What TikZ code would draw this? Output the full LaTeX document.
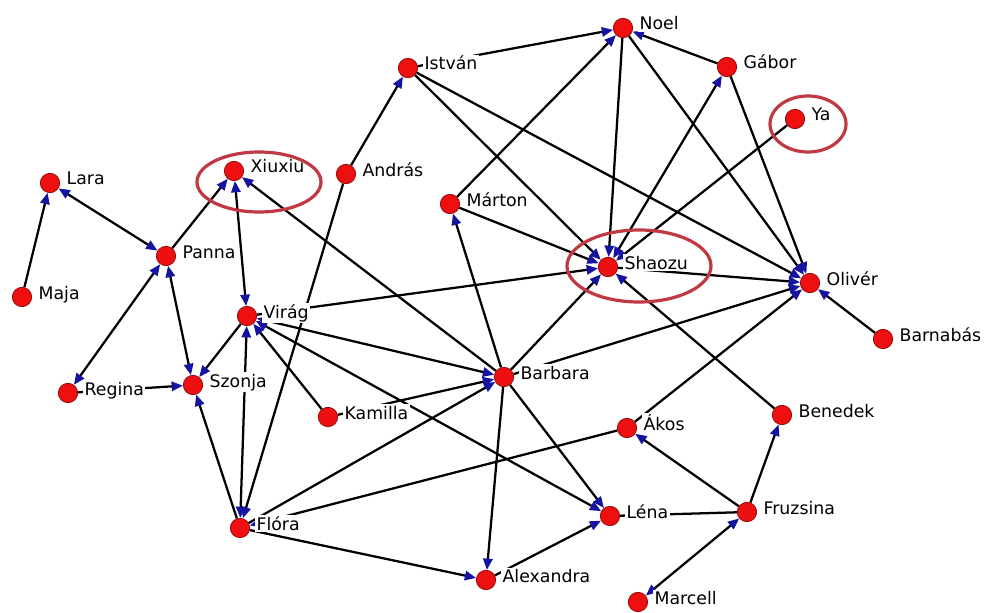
\documentclass[tikz,border=0pt]{standalone}
\usepackage{fontspec}
\setmainfont{DejaVu Sans}
\usetikzlibrary{arrows.meta}
\definecolor{dotred}{RGB}{238,16,16}
\definecolor{dotrim}{RGB}{150,10,10}
\definecolor{tipblue}{RGB}{20,20,160}
\definecolor{ringred}{RGB}{192,56,66}
\tikzset{
  actor/.style={circle, fill=dotred, draw=dotrim, line width=0.6pt, minimum size=14.5pt, inner sep=0pt},
  name tag/.style={anchor=base west, fill=white, inner sep=1pt, font=\fontsize{13}{15}\selectfont},
  tie/.style={line width=1.7pt, -{Triangle[length=8.5pt, width=7pt, color=tipblue]}},
  mutual/.style={line width=1.7pt, {Triangle[length=8.5pt, width=7pt, color=tipblue]}-{Triangle[length=8.5pt, width=7pt, color=tipblue]}},
  tieplain/.style={line width=1.7pt},
  ring/.style={draw=ringred, line width=2.4pt}
}
\begin{document}
\begin{tikzpicture}[x=0.75pt,y=0.75pt,yscale=-1,xscale=1]
\useasboundingbox (0,0) rectangle (985,613);

%Shape: Circle
\node [actor] (noel) at (623,28) {};
\node [actor] (istvan) at (408,68) {};
\node [actor] (gabor) at (727,67) {};
\node [actor] (ya) at (795,119) {};
\node [actor] (xiuxiu) at (234,171) {};
\node [actor] (andras) at (346,174) {};
\node [actor] (lara) at (50,183) {};
\node [actor] (marton) at (450,204) {};
\node [actor] (panna) at (166,256) {};
\node [actor] (shaozu) at (608,267) {};
\node [actor] (oliver) at (810,283) {};
\node [actor] (maja) at (22,297) {};
\node [actor] (virag) at (247,316) {};
\node [actor] (barnabas) at (883,339) {};
\node [actor] (barbara) at (504,377) {};
\node [actor] (szonja) at (193,385) {};
\node [actor] (regina) at (68,393) {};
\node [actor] (kamilla) at (328,417) {};
\node [actor] (benedek) at (782,415) {};
\node [actor] (akos) at (627,428) {};
\node [actor] (flora) at (240,528) {};
\node [actor] (lena) at (610,516) {};
\node [actor] (fruzsina) at (747,512) {};
\node [actor] (alexandra) at (486,580) {};
\node [actor] (marcell) at (638,602) {};

%Straight Lines
\draw [tie] (maja) -- (lara);
\draw [mutual] (lara) -- (panna);
\draw [tie] (panna) -- (xiuxiu);
\draw [mutual] (panna) -- (regina);
\draw [mutual] (panna) -- (szonja);
\draw [tie] (regina) -- (szonja);
\draw [mutual] (xiuxiu) -- (virag);
\draw [tie] (barbara) -- (xiuxiu);
\draw [tie] (virag) -- (szonja);
\draw [tie] (flora) -- (szonja);
\draw [mutual] (flora) -- (virag);
\draw [tie] (andras) -- (flora);
\draw [tie] (andras) -- (istvan);
\draw [tie] (kamilla) -- (virag);
\draw [mutual] (virag) -- (barbara);
\draw [tie] (virag) -- (shaozu);
\draw [mutual] (virag) -- (lena);
\draw [tie] (kamilla) -- (barbara);
\draw [tie] (flora) -- (barbara);
\draw [tie] (akos) -- (flora);
\draw [tie] (flora) -- (alexandra);
\draw [tie] (barbara) -- (alexandra);
\draw [tie] (barbara) -- (lena);
\draw [tie] (barbara) -- (marton);
\draw [tie] (barbara) -- (shaozu);
\draw [tie] (barbara) -- (oliver);
\draw [tie] (alexandra) -- (lena);
\draw [tieplain] (fruzsina) -- (lena);
\draw [tie] (fruzsina) -- (akos);
\draw [tie] (fruzsina) -- (benedek);
\draw [mutual] (marcell) -- (fruzsina);
\draw [tie] (benedek) -- (shaozu);
\draw [tie] (barnabas) -- (oliver);
\draw [tie] (shaozu) -- (oliver);
\draw [tie] (akos) -- (oliver);
\draw [tie] (marton) -- (shaozu);
\draw [tie] (marton) -- (noel);
\draw [tie] (istvan) -- (noel);
\draw [tie] (istvan) -- (shaozu);
\draw [tie] (istvan) -- (oliver);
\draw [tie] (noel) -- (shaozu);
\draw [tie] (noel) -- (oliver);
\draw [tie] (gabor) -- (noel);
\draw [tie] (gabor) -- (oliver);
\draw [mutual] (shaozu) -- (gabor);
\draw [tie] (ya) -- (shaozu);

% Text Node
\node [name tag] (noel-t) at ([shift={(15,2)}]noel.center) {Noel};
\node [name tag] (istvan-t) at ([shift={(15,2)}]istvan.center) {István};
\node [name tag] (gabor-t) at ([shift={(15,2)}]gabor.center) {Gábor};
\node [name tag] (ya-t) at ([shift={(15,2)}]ya.center) {Ya};
\node [name tag] (xiuxiu-t) at ([shift={(15,2)}]xiuxiu.center) {Xiuxiu};
\node [name tag] (andras-t) at ([shift={(15,2)}]andras.center) {András};
\node [name tag] (lara-t) at ([shift={(15,2)}]lara.center) {Lara};
\node [name tag] (marton-t) at ([shift={(15,2)}]marton.center) {Márton};
\node [name tag] (panna-t) at ([shift={(15,2)}]panna.center) {Panna};
\node [name tag] (shaozu-t) at ([shift={(15,2)}]shaozu.center) {Shaozu};
\node [name tag] (oliver-t) at ([shift={(15,2)}]oliver.center) {Olivér};
\node [name tag] (maja-t) at ([shift={(15,2)}]maja.center) {Maja};
\node [name tag] (virag-t) at ([shift={(15,2)}]virag.center) {Virág};
\node [name tag] (barnabas-t) at ([shift={(15,2)}]barnabas.center) {Barnabás};
\node [name tag] (barbara-t) at ([shift={(15,2)}]barbara.center) {Barbara};
\node [name tag] (szonja-t) at ([shift={(15,2)}]szonja.center) {Szonja};
\node [name tag] (regina-t) at ([shift={(15,2)}]regina.center) {Regina};
\node [name tag] (kamilla-t) at ([shift={(15,2)}]kamilla.center) {Kamilla};
\node [name tag] (benedek-t) at ([shift={(15,2)}]benedek.center) {Benedek};
\node [name tag] (akos-t) at ([shift={(15,2)}]akos.center) {Ákos};
\node [name tag] (flora-t) at ([shift={(15,2)}]flora.center) {Flóra};
\node [name tag] (lena-t) at ([shift={(15,2)}]lena.center) {Léna};
\node [name tag] (fruzsina-t) at ([shift={(15,2)}]fruzsina.center) {Fruzsina};
\node [name tag] (alexandra-t) at ([shift={(15,2)}]alexandra.center) {Alexandra};
\node [name tag] (marcell-t) at ([shift={(15,2)}]marcell.center) {Marcell};

%Shape: Ellipse
\draw [ring] (259,182) ellipse [x radius=62, y radius=30];
\draw [ring] (639,266) ellipse [x radius=72, y radius=36];
\draw [ring] (808,124) ellipse [x radius=38, y radius=28];

\end{tikzpicture}
\end{document}
